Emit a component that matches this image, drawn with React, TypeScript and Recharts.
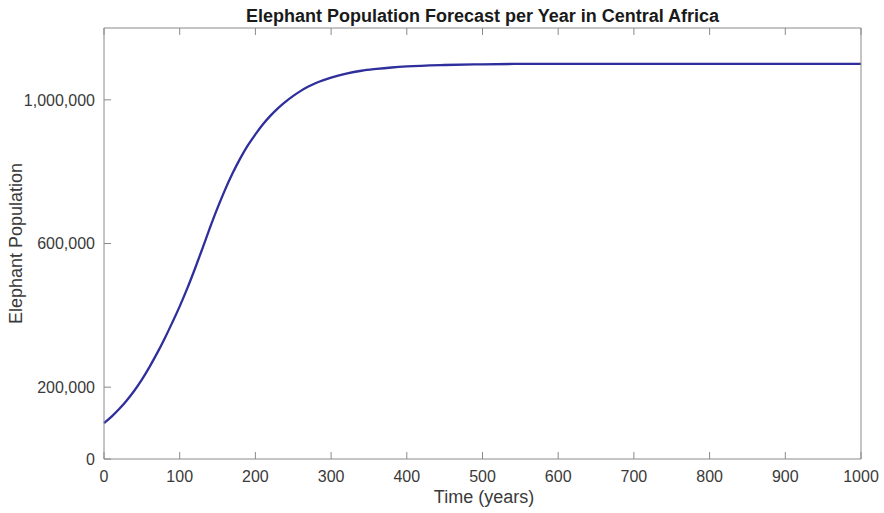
import React from "react";
import { LineChart, Line, XAxis, YAxis } from "recharts";

const years = [
  0, 10, 20, 30, 40, 50, 60, 70, 80, 90, 100, 110, 120, 130, 140, 150, 160, 170, 180, 190,
  200, 210, 220, 230, 240, 250, 260, 270, 280, 290, 300, 320, 340, 360, 380, 400, 450, 500,
  550, 600, 700, 800, 900, 1000,
];
const population = [
  100000, 118000, 139000, 163000, 190000, 221000, 256000, 294000, 335000, 379000, 425000,
  475000, 529000, 586000, 644000, 699000, 750000, 796000, 837000, 873000, 904000, 932000,
  956000, 977000, 995000, 1011000, 1025000, 1037000, 1047000, 1055000, 1062000, 1073000,
  1081000, 1086000, 1090000, 1093000, 1097000, 1099000, 1100000, 1100000, 1100000, 1100000,
  1100000, 1100000,
];
const xTicks = [0, 100, 200, 300, 400, 500, 600, 700, 800, 900, 1000];
const yTicks = [0, 200000, 600000, 1000000];

const title = "Elephant Population Forecast per Year in Central Africa";
const xLabel = "Time (years)";
const yLabel = "Elephant Population";

const data = years.map((t, i) => ({ t, p: population[i] }));

const FONT = "'Liberation Sans', Arial, Helvetica, sans-serif";
const AXIS = "#8a8a8a";
const TXT = "#3a3a3a";
const TL = 7;

const BottomTick = (props: any) => {
  const { x, y, payload } = props;
  return (
    <g>
      <line x1={x} y1={y} x2={x} y2={y - TL} stroke={AXIS} strokeWidth={1} />
      <text x={x} y={y + 23} textAnchor="middle" fontSize={16} fontFamily={FONT} fill={TXT}>
        {payload.value}
      </text>
    </g>
  );
};

const TopTick = (props: any) => {
  const { x, y } = props;
  return <line x1={x} y1={y} x2={x} y2={y + TL} stroke={AXIS} strokeWidth={1} />;
};

const LeftTick = (props: any) => {
  const { x, y, payload } = props;
  return (
    <g>
      <line x1={x} y1={y} x2={x + TL} y2={y} stroke={AXIS} strokeWidth={1} />
      <text x={x - 9} y={y} dy="0.36em" textAnchor="end" fontSize={16} fontFamily={FONT} fill={TXT}>
        {Number(payload.value).toLocaleString("en-US")}
      </text>
    </g>
  );
};

const RightTick = (props: any) => {
  const { x, y } = props;
  return <line x1={x} y1={y} x2={x - TL} y2={y} stroke={AXIS} strokeWidth={1} />;
};

export default function App() {
  return (
    <div style={{ position: "absolute", left: 0, top: 0, width: 884, height: 513, background: "#fff" }}>
      <LineChart width={884} height={513} data={data} margin={{ top: 0, right: 0, bottom: 0, left: 0 }}>
        <XAxis
          xAxisId={0}
          type="number"
          dataKey="t"
          domain={[0, 1000]}
          ticks={xTicks}
          orientation="bottom"
          height={54}
          tickSize={0}
          tickMargin={0}
          tickLine={false}
          axisLine={{ stroke: AXIS }}
          tick={<BottomTick />}
          interval={0}
        />
        <XAxis
          xAxisId="top"
          type="number"
          dataKey="t"
          domain={[0, 1000]}
          ticks={xTicks}
          orientation="top"
          height={28}
          tickSize={0}
          tickMargin={0}
          tickLine={false}
          axisLine={{ stroke: AXIS }}
          tick={<TopTick />}
          interval={0}
        />
        <YAxis
          yAxisId={0}
          type="number"
          domain={[0, 1200000]}
          ticks={yTicks}
          orientation="left"
          width={104}
          tickSize={0}
          tickMargin={0}
          tickLine={false}
          axisLine={{ stroke: AXIS }}
          tick={<LeftTick />}
          interval={0}
        />
        <YAxis
          yAxisId="right"
          type="number"
          domain={[0, 1200000]}
          ticks={yTicks}
          orientation="right"
          width={23}
          tickSize={0}
          tickMargin={0}
          tickLine={false}
          axisLine={{ stroke: AXIS }}
          tick={<RightTick />}
          interval={0}
        />
        <Line
          xAxisId={0}
          yAxisId={0}
          type="monotone"
          dataKey="p"
          stroke="#2e2e9c"
          strokeWidth={2.3}
          dot={false}
          isAnimationActive={false}
        />
      </LineChart>
      <svg width={884} height={513} style={{ position: "absolute", left: 0, top: 0, pointerEvents: "none" }}>
        <text x={482.5} y={21.5} textAnchor="middle" fontSize={18} fontWeight="bold" fontFamily={FONT} fill="#1a1a1a">
          {title}
        </text>
        <text x={484} y={503} textAnchor="middle" fontSize={18} fontFamily={FONT} fill={TXT}>
          {xLabel}
        </text>
        <text transform="translate(21.5,243.5) rotate(-90)" textAnchor="middle" fontSize={18} fontFamily={FONT} fill={TXT}>
          {yLabel}
        </text>
      </svg>
    </div>
  );
}
